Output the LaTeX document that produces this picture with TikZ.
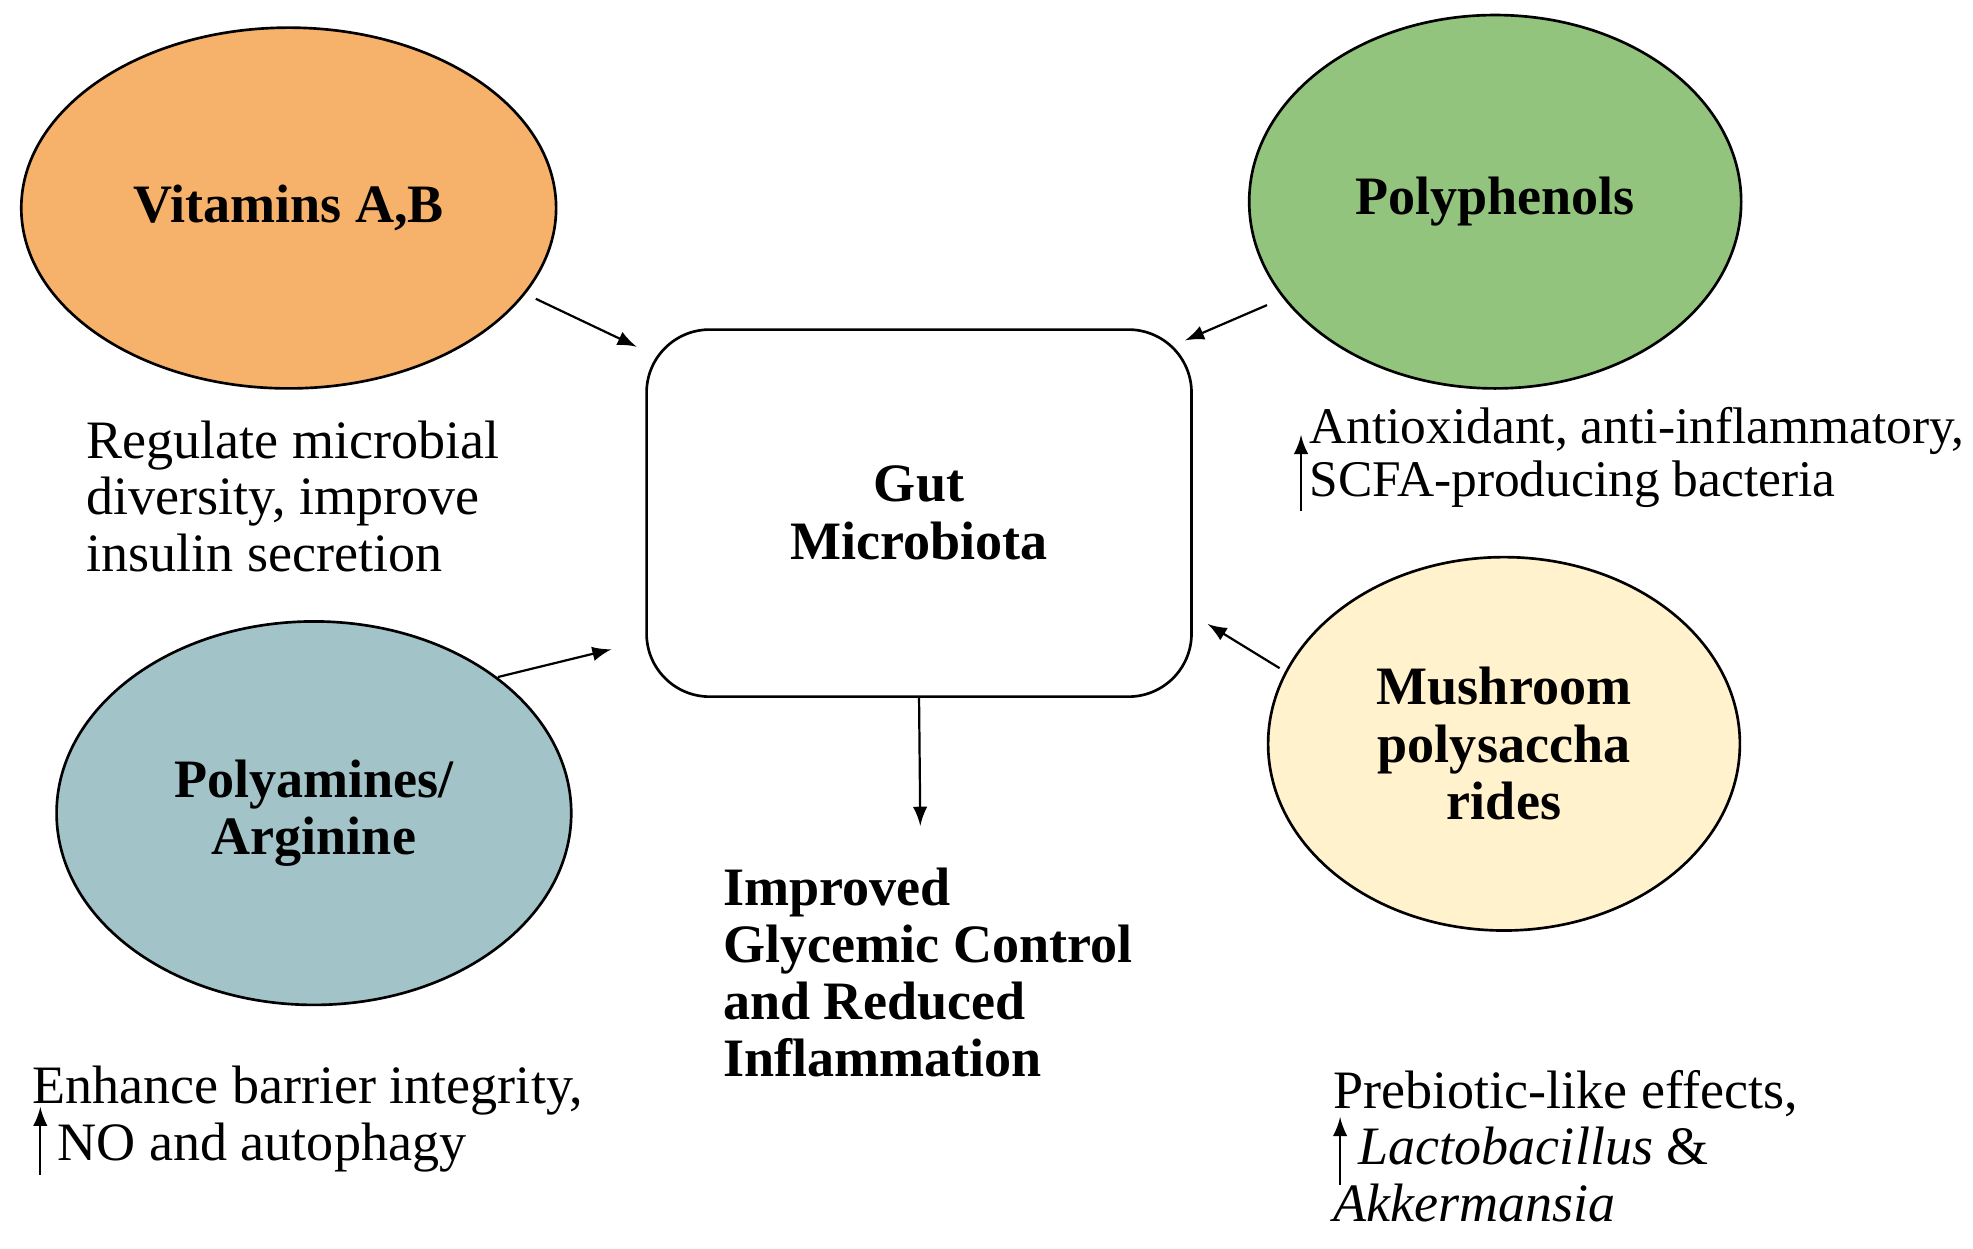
\documentclass[tikz,border=0pt]{standalone}
\usepackage{fontspec}
\setmainfont{Liberation Serif}
\usetikzlibrary{shapes.geometric}
\begin{document}
\begin{tikzpicture}[x=0.01cm,y=-0.01cm,
 el/.style={ellipse,draw=black,line width=0.6pt,font=\fontsize{12.2}{13}\selectfont\bfseries,align=center},
 txt/.style={anchor=north west,align=left,inner sep=0pt,font=\fontsize{12.2}{12.8}\selectfont},
 arr/.style={-latex,line width=0.5pt},
 up/.style={-latex,line width=0.5pt,shorten >=0pt}]
\useasboundingbox (0,0) rectangle (1565,990.7);
\fill[white] (0,0) rectangle (1565,990.7);
\node[el,fill={rgb,255:red,246;green,178;blue,107},minimum width=4.24cm,minimum height=2.86cm] (vit) at (229,165) {Vitamins A,B};
\node[el,fill={rgb,255:red,147;green,196;blue,125},minimum width=3.9cm,minimum height=2.96cm] (poly) at (1186,160) {Polyphenols};
\node[el,fill={rgb,255:red,162;green,196;blue,201},minimum width=4.08cm,minimum height=3.04cm] (pa) at (249,645) {Polyamines/\\Arginine};
\node[el,fill={rgb,255:red,255;green,242;blue,204},minimum width=3.74cm,minimum height=2.96cm] (mu) at (1193,590) {Mushroom\\polysaccha\\rides};
\node[draw,rounded corners=0.5cm,line width=0.6pt,minimum width=4.32cm,minimum height=2.91cm,font=\fontsize{12.2}{13}\selectfont\bfseries,align=center] (gut) at (729,407) {Gut\\Microbiota};
\coordinate (a1) at (425,237); \coordinate (b1) at (505,275);
\coordinate (a2) at (1005,242); \coordinate (b2) at (940,270);
\coordinate (a3) at (395,537); \coordinate (b3) at (485,515);
\coordinate (a4) at (1015,530); \coordinate (b4) at (958,495);
\coordinate (b5) at (730,655);
\draw[arr] (a1) -- (b1);
\draw[arr] (a2) -- (b2);
\draw[arr] (a3) -- (b3);
\draw[arr] (a4) -- (b4);
\draw[arr] (gut.south) -- (b5);
\node[txt] (t1) at (68,333) {Regulate microbial\\diversity, improve\\insulin secretion};
\node[txt,font=\fontsize{11.6}{12.1}\selectfont] (t2) at (1038,322) {Antioxidant, anti-inflammatory,\\SCFA-producing bacteria};
\node[txt] (t3) at (25,845) {Enhance barrier integrity,\\\hspace{0.2cm}NO and autophagy};
\node[txt] (t4) at (1057,848) {Prebiotic-like effects,\\\hspace{0.2cm}\textit{Lactobacillus} \&\\\textit{Akkermansia}};
\node[txt,font=\fontsize{12.2}{12.8}\selectfont\bfseries] (t5) at (573,688) {Improved\\Glycemic Control\\and Reduced\\Inflammation};
\coordinate (u1a) at (1032,405); \coordinate (u1b) at (1032,345);
\coordinate (u2a) at (32,932); \coordinate (u2b) at (32,878);
\coordinate (u3a) at (1063,940); \coordinate (u3b) at (1063,886);
\draw[up] (u1a) -- (u1b);
\draw[up] (u2a) -- (u2b);
\draw[up] (u3a) -- (u3b);
\end{tikzpicture}
\end{document}
